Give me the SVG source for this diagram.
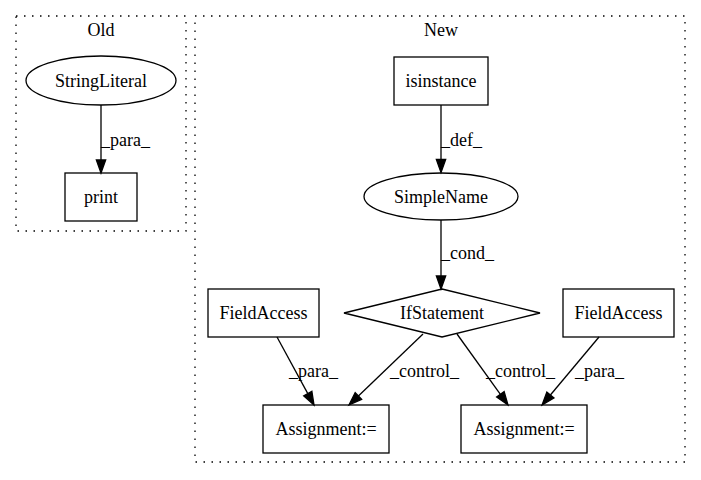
<svg xmlns="http://www.w3.org/2000/svg" width="701" height="480" viewBox="0 0 701 480">
<style>
text{font-family:"Liberation Serif","Times New Roman",serif;font-size:18px;fill:#000}
.c{text-anchor:middle}
.shape{fill:#fff;stroke:#000;stroke-width:1.3}
.cluster{fill:none;stroke:#000;stroke-width:1.3;stroke-dasharray:1.5,6.5}
.edge line{stroke:#000;stroke-width:1.3;marker-end:url(#arr)}
</style>
<defs>
<marker id="arr" markerUnits="userSpaceOnUse" markerWidth="14" markerHeight="10" refX="0" refY="4.65" orient="auto" overflow="visible">
<path d="M0,0 L13,4.65 L0,9.3 z" fill="#000" stroke="#000" stroke-width="1.3"/>
</marker>
</defs>
<rect width="701" height="480" fill="#fff"/>
<g id="cluster_old">
<rect class="cluster" x="16" y="16" width="170" height="215"/>
<text class="c" x="101" y="36">Old</text>
</g>
<g id="cluster_new">
<rect class="cluster" x="195" y="16" width="490" height="446"/>
<text class="c" x="441" y="36">New</text>
</g>
<g id="StringLiteral">
<ellipse class="shape" cx="101" cy="80.5" rx="75" ry="24.5"/>
<text class="c" x="101" y="86.5">StringLiteral</text>
</g>
<g id="print">
<rect class="shape" x="65" y="173" width="72" height="48"/>
<text class="c" x="101" y="203">print</text>
</g>
<g id="isinstance">
<rect class="shape" x="394" y="57" width="94" height="48"/>
<text class="c" x="441" y="87">isinstance</text>
</g>
<g id="SimpleName">
<ellipse class="shape" cx="441" cy="196.5" rx="77" ry="23.5"/>
<text class="c" x="441" y="202.5">SimpleName</text>
</g>
<g id="IfStatement">
<polygon class="shape" points="442,289 540,313 442,337 344,313"/>
<text class="c" x="442" y="319">IfStatement</text>
</g>
<g id="FieldAccess1">
<rect class="shape" x="208" y="289" width="111" height="48"/>
<text class="c" x="263.5" y="319">FieldAccess</text>
</g>
<g id="FieldAccess2">
<rect class="shape" x="563" y="289" width="111" height="48"/>
<text class="c" x="618.5" y="319">FieldAccess</text>
</g>
<g id="Assignment1">
<rect class="shape" x="263" y="405" width="126" height="48"/>
<text class="c" x="326" y="435">Assignment:=</text>
</g>
<g id="Assignment2">
<rect class="shape" x="461" y="405" width="126" height="48"/>
<text class="c" x="524" y="435">Assignment:=</text>
</g>
<g id="edges" class="edge">
<line x1="101" y1="105" x2="101" y2="160"/>
<text x="101" y="146">_para_</text>
<line x1="441" y1="105" x2="441" y2="159.5"/>
<text x="441" y="146">_def_</text>
<line x1="441" y1="220" x2="441" y2="276"/>
<text x="441" y="259">_cond_</text>
<line x1="277" y1="337" x2="307.8" y2="393.6"/>
<text x="289" y="377">_para_</text>
<line x1="423" y1="334" x2="358.4" y2="396"/>
<text x="390" y="377">_control_</text>
<line x1="457" y1="334" x2="500.4" y2="394.4"/>
<text x="486" y="377">_control_</text>
<line x1="599" y1="337" x2="550.4" y2="395"/>
<text x="575" y="377">_para_</text>
</g>
</svg>
